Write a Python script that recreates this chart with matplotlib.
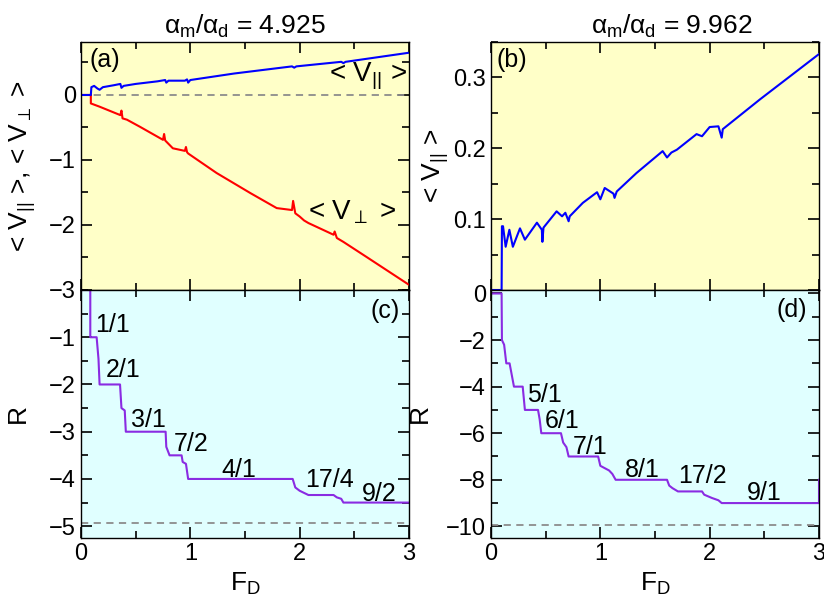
import matplotlib
matplotlib.use("Agg")
import matplotlib.pyplot as plt
from matplotlib.ticker import MultipleLocator

plt.rcParams["font.family"] = ["Liberation Sans", "DejaVu Sans"]
plt.rcParams["mathtext.fontset"] = "custom"
plt.rcParams["mathtext.rm"] = "Liberation Sans"
plt.rcParams["mathtext.it"] = "Liberation Sans"
plt.rcParams["mathtext.bf"] = "Liberation Sans:bold"

# panel (a): average velocities, alpha_m/alpha_d = 4.925
a_F_par = [0.0, 0.09, 0.095, 0.12, 0.15, 0.17, 0.2, 0.30, 0.36, 0.37, 0.39, 0.5, 0.7, 0.77,
           0.78, 0.80, 0.95, 0.97, 0.98, 1.0, 1.4, 1.93, 1.95, 1.97, 2.38, 2.40, 2.42, 3.0]
a_V_par = [0.0, 0.0, 0.12, 0.14, 0.1, 0.08, 0.12, 0.15, 0.17, 0.11, 0.14, 0.17, 0.21, 0.23,
           0.19, 0.22, 0.22, 0.24, 0.19, 0.23, 0.33, 0.44, 0.42, 0.44, 0.51, 0.49, 0.51, 0.65]
a_F_perp = [0.0, 0.09, 0.09, 0.17, 0.36, 0.37, 0.38, 0.42, 0.54, 0.75, 0.76, 0.77, 0.84, 0.95,
            0.96, 0.97, 0.98, 1.24, 1.55, 1.79, 1.93, 1.94, 1.96, 2.0, 2.02, 2.04, 2.08, 2.31,
            2.32, 2.34, 2.4, 2.61, 3.0]
a_V_perp = [0.0, 0.0, -0.13, -0.18, -0.31, -0.24, -0.36, -0.38, -0.49, -0.69, -0.6, -0.7, -0.82,
            -0.86, -0.8, -0.88, -0.9, -1.2, -1.51, -1.74, -1.77, -1.63, -1.82, -1.87, -1.9, -1.93,
            -1.97, -2.15, -2.1, -2.2, -2.26, -2.49, -2.92]

# panel (b): alpha_m/alpha_d = 9.962
b_F = [0.0, 0.097, 0.10, 0.11, 0.134, 0.168, 0.2, 0.265, 0.31, 0.42, 0.465, 0.47, 0.48, 0.6,
       0.65, 0.68, 0.71, 0.72, 0.84, 0.97, 1.0, 1.04, 1.12, 1.13, 1.15, 1.33, 1.57, 1.61, 1.65,
       1.7, 1.88, 1.93, 2.0, 2.08, 2.11, 2.12, 2.46, 3.0]
b_V = [0.0, 0.0, 0.09, 0.09, 0.061, 0.085, 0.061, 0.087, 0.071, 0.095, 0.085, 0.068, 0.088,
       0.111, 0.104, 0.109, 0.097, 0.104, 0.123, 0.138, 0.128, 0.144, 0.136, 0.13, 0.139, 0.165,
       0.196, 0.187, 0.194, 0.198, 0.22, 0.217, 0.23, 0.231, 0.215, 0.227, 0.269, 0.333]

# panel (c): ratio R
c_F = [0.0, 0.085, 0.085, 0.143, 0.16, 0.17, 0.357, 0.37, 0.40, 0.41, 0.774, 0.78, 0.81, 0.92,
       0.93, 0.96, 0.98, 1.936, 1.96, 2.0, 2.08, 2.31, 2.34, 2.38, 2.40, 3.0]
c_R = [0.0, 0.0, -1.0, -1.0, -1.46, -2.0, -2.0, -2.5, -2.55, -3.0, -3.0, -3.32, -3.5, -3.5,
       -3.64, -3.68, -4.0, -4.0, -4.18, -4.25, -4.34, -4.34, -4.39, -4.42, -4.5, -4.5]
c_labels = ["1/1", "2/1", "3/1", "7/2", "4/1", "17/4", "9/2"]
c_lab_F = [0.128, 0.229, 0.457, 0.845, 1.287, 2.05, 2.57]
c_lab_R = [-0.88, -1.84, -2.91, -3.41, -3.95, -4.16, -4.46]

# panel (d)
d_F = [0.0, 0.097, 0.10, 0.12, 0.14, 0.17, 0.21, 0.29, 0.31, 0.43, 0.445, 0.46, 0.64, 0.66,
       0.69, 0.71, 0.98, 1.0, 1.02, 1.08, 1.11, 1.14, 1.61, 1.63, 1.66, 1.71, 1.93, 1.95, 2.02,
       2.08, 2.11, 3.0, 3.0]
d_R = [0.0, 0.0, -2.0, -2.2, -3.0, -3.0, -4.0, -4.0, -5.0, -5.0, -5.4, -6.0, -6.0, -6.4, -6.6,
       -7.0, -7.0, -7.4, -7.45, -7.6, -7.75, -8.0, -8.0, -8.25, -8.36, -8.5, -8.5, -8.64, -8.78,
       -8.88, -9.0, -9.0, -8.0]
d_labels = ["5/1", "6/1", "7/1", "8/1", "17/2", "9/1"]
d_lab_F = [0.33, 0.49, 0.75, 1.22, 1.71, 2.34]
d_lab_R = [-4.64, -5.79, -6.9, -7.86, -8.14, -8.86]

ratio_c = 4.925
ratio_d = 9.962

YELLOW = "#ffffc8"
CYAN = "#e0ffff"
PURPLE = "#8a2be2"
GREY = "#8c8c8c"

fig = plt.figure(figsize=(8.24, 6.06), dpi=100)
W, H = 824, 606


def box(x0, y0, x1, y1):
    return [x0 / W, 1 - y1 / H, (x1 - x0) / W, (y1 - y0) / H]


ax_a = fig.add_axes(box(81, 42, 409, 290))
ax_c = fig.add_axes(box(81, 290, 409, 538))
ax_b = fig.add_axes(box(491, 42, 819, 290))
ax_d = fig.add_axes(box(491, 290, 819, 538))

for ax in (ax_a, ax_b, ax_c, ax_d):
    ax.set_xlim(0, 3)
    ax.xaxis.set_major_locator(MultipleLocator(1))
    ax.xaxis.set_minor_locator(MultipleLocator(0.5))
    ax.tick_params(which="both", direction="in", top=True, right=True, labelsize=17, width=1.2)
    ax.tick_params(which="major", length=8)
    ax.tick_params(which="minor", length=5)
    for s in ax.spines.values():
        s.set_linewidth(1.0)

for ax in (ax_a, ax_b):
    ax.set_facecolor(YELLOW)
    ax.tick_params(labelbottom=False)
for ax in (ax_c, ax_d):
    ax.set_facecolor(CYAN)

# (a)
ax_a.axhline(0, color=GREY, ls="--", lw=1.3, dashes=(4, 3))
ax_a.plot(a_F_perp, a_V_perp, color="red", lw=1.5)
ax_a.plot(a_F_par, a_V_par, color="blue", lw=1.5)
ax_a.set_ylim(-3, 0.815)
ax_a.set_yticks([-3, -2, -1, 0])
ax_a.yaxis.set_minor_locator(MultipleLocator(0.5))
ax_a.set_ylabel(r"< V$_{||}$ >, < V$_{\perp}$ >", fontsize=19, labelpad=8)
ax_a.set_title(r"$\alpha_{\rm m}/\alpha_{\rm d}$ = 4.925", fontsize=19, pad=6)
ax_a.text(0.025, 0.975, "(a)", transform=ax_a.transAxes, ha="left", va="top", fontsize=18)
ax_a.text(2.98, 0.2, r"< V$_{||}$ >", ha="right", va="baseline", fontsize=20)
ax_a.text(2.48, -1.92, r"< V$_{\perp}$ >", ha="center", va="baseline", fontsize=20)

# (b)
ax_b.plot(b_F, b_V, color="blue", lw=1.5)
ax_b.set_ylim(0, 0.35)
ax_b.set_yticks([0, 0.1, 0.2, 0.3])
ax_b.set_yticklabels(["", "0.1", "0.2", "0.3"])  # the 0 is shared with (d)
ax_b.yaxis.set_minor_locator(MultipleLocator(0.05))
ax_b.set_ylabel(r"< V$_{||}$ >", fontsize=19, labelpad=2)
ax_b.set_title(r"$\alpha_{\rm m}/\alpha_{\rm d}$ = 9.962", fontsize=19, pad=6, x=0.55)
ax_b.text(0.018, 0.975, "(b)", transform=ax_b.transAxes, ha="left", va="top", fontsize=18)

# (c)
ax_c.axhline(-ratio_c, color=GREY, ls="--", lw=1.3, dashes=(4, 3))
ax_c.plot(c_F, c_R, color=PURPLE, lw=1.5)
ax_c.set_ylim(-5.25, 0)
ax_c.set_yticks([-5, -4, -3, -2, -1])
ax_c.yaxis.set_minor_locator(MultipleLocator(0.5))
ax_c.set_ylabel("R", fontsize=19, labelpad=14)
ax_c.set_xlabel(r"F$_{\rm D}$", fontsize=19, labelpad=4)
ax_c.text(0.973, 0.965, "(c)", transform=ax_c.transAxes, ha="right", va="top", fontsize=18)
for lab, xf, yr in zip(c_labels, c_lab_F, c_lab_R):
    ax_c.text(xf, yr, lab, ha="left", va="baseline", fontsize=18)

# (d)
ax_d.axhline(-ratio_d, color=GREY, ls="--", lw=1.3, dashes=(4, 3))
ax_d.plot(d_F, d_R, color=PURPLE, lw=1.5)
ax_d.set_ylim(-10.5, 0.15)
ax_d.set_yticks([-10, -8, -6, -4, -2, 0])
ax_d.yaxis.set_minor_locator(MultipleLocator(1))
ax_d.set_ylabel("R", fontsize=19, labelpad=10)
ax_d.set_xlabel(r"F$_{\rm D}$", fontsize=19, labelpad=4)
ax_d.text(0.963, 0.967, "(d)", transform=ax_d.transAxes, ha="right", va="top", fontsize=18)
for lab, xf, yr in zip(d_labels, d_lab_F, d_lab_R):
    ax_d.text(xf, yr, lab, ha="left", va="baseline", fontsize=18)

fig.savefig("out.png", dpi=100)
